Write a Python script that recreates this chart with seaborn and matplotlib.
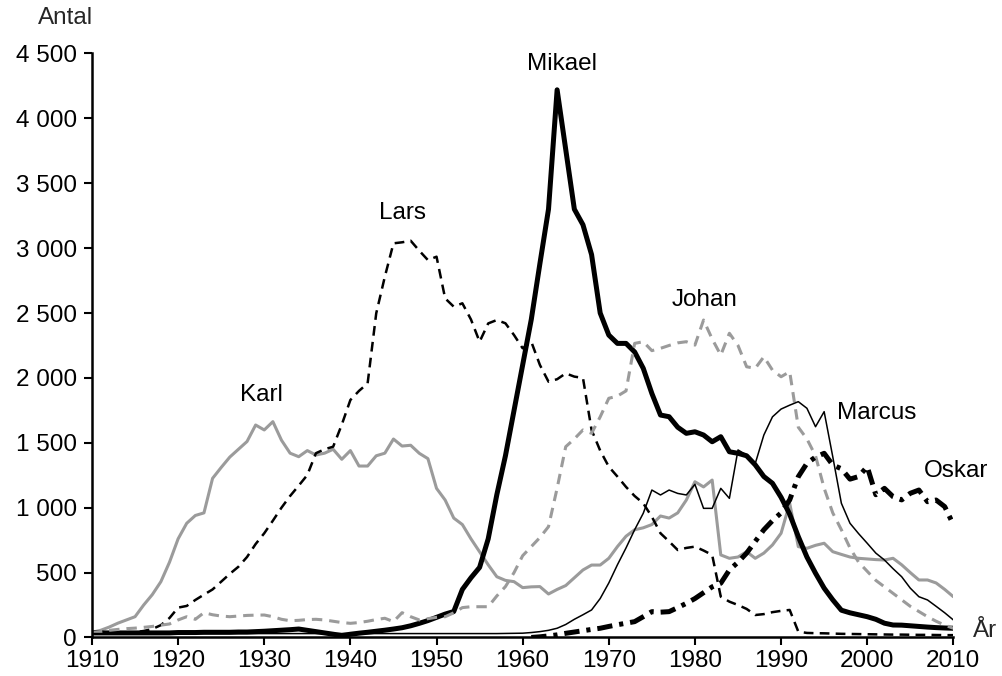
import numpy as np
import pandas as pd
import matplotlib
matplotlib.use("Agg")
import matplotlib.pyplot as plt
from matplotlib.ticker import FuncFormatter, FixedLocator
import seaborn as sns

nan = np.nan
years = list(range(1910, 2011))

karl = [40, 55, 80, 110, 135, 160, 250, 330, 430, 580,
        760, 880, 940, 960, 1226, 1310, 1390, 1450, 1510, 1637,
        1599, 1663, 1520, 1420, 1393, 1440, 1406, 1420, 1450, 1373,
        1440, 1321, 1321, 1400, 1420, 1529, 1475, 1481, 1419, 1378,
        1149, 1059, 920, 870, 760, 660, 560, 468, 440, 430,
        384, 390, 392, 335, 370, 400, 460, 520, 558, 558,
        610, 700, 780, 830, 845, 870, 936, 920, 960, 1059,
        1200, 1160, 1213, 636, 610, 620, 661, 610, 650, 713,
        803, 1034, 700, 687, 710, 726, 661, 640, 620, 610,
        605, 600, 597, 610, 560, 500, 443, 443, 420, 370, 314]

lars = [30, 30, 30, 30, 35, 40, 50, 65, 95, 150,
        230, 243, 289, 330, 370, 430, 490, 545, 620, 720,
        803, 900, 1000, 1090, 1170, 1252, 1420, 1450, 1470, 1640,
        1830, 1900, 1958, 2498, 2780, 3037, 3045, 3057, 2980, 2908,
        2934, 2613, 2549, 2575, 2450, 2279, 2420, 2446, 2421, 2330,
        2228, 2279, 2100, 1971, 1990, 2035, 2010, 2000, 1599, 1440,
        1316, 1240, 1160, 1090, 1034, 930, 803, 740, 674, 690,
        700, 670, 636, 314, 276, 250, 220, 173, 180, 195,
        205, 212, 45, 35, 33, 32, 30, 28, 27, 26,
        25, 24, 23, 22, 22, 21, 20, 20, 19, 18, 18]

mikael = [35, 35, 35, 35, 35, 35, 35, 35, 35, 35,
          38, 38, 38, 40, 40, 40, 40, 42, 42, 45,
          48, 52, 56, 60, 65, 55, 45, 35, 25, 15,
          25, 33, 40, 48, 56, 65, 75, 90, 109, 130,
          155, 180, 200, 370, 460, 540, 760, 1100, 1400, 1750,
          2100, 2450, 2880, 3300, 4220, 3760, 3300, 3180, 2950, 2500,
          2330, 2266, 2266, 2200, 2074, 1880, 1714, 1701, 1620, 1573,
          1585, 1560, 1508, 1547, 1431, 1419, 1400, 1330, 1240, 1188,
          1080, 950, 777, 620, 495, 380, 290, 210, 190, 175,
          160, 140, 110, 96, 95, 90, 85, 80, 76, 73, 71]

johan = [35, 45, 55, 62, 68, 72, 78, 85, 95, 104,
         135, 160, 140, 191, 175, 165, 160, 165, 170, 172,
         173, 160, 140, 129, 132, 138, 140, 135, 125, 115,
         109, 115, 125, 138, 148, 122, 191, 160, 135, 145,
         155, 160, 190, 230, 237, 237, 237, 320, 392, 500,
         630, 700, 770, 854, 1150, 1470, 1530, 1599, 1573, 1700,
         1843, 1860, 1900, 2266, 2279, 2210, 2228, 2250, 2270, 2279,
         2253, 2446, 2300, 2176, 2344, 2250, 2086, 2074, 2163, 2060,
         2009, 2048, 1620, 1530, 1400, 1150, 960, 830, 690, 580,
         510, 440, 390, 340, 290, 240, 200, 160, 125, 95, 71]

marcus = [30, 30, 30, 30, 30, 30, 30, 30, 30, 30,
          30, 30, 30, 30, 30, 30, 30, 30, 30, 30,
          30, 30, 30, 30, 30, 30, 30, 30, 30, 30,
          30, 30, 30, 30, 30, 30, 30, 30, 30, 30,
          30, 30, 30, 30, 30, 30, 30, 30, 31, 32,
          33, 38, 45, 55, 71, 100, 140, 175, 212, 300,
          420, 560, 690, 830, 957, 1136, 1098, 1136, 1110, 1098,
          1180, 995, 995, 1149, 1072, 1445, 1406, 1340, 1560, 1700,
          1760, 1790, 1817, 1766, 1624, 1740, 1393, 1034, 880, 800,
          726, 650, 597, 530, 468, 380, 314, 289, 240, 190, 135]

oskar = [nan] * 51 + [
    0, 5, 12, 20, 32, 42, 52, 62, 71,
    85, 98, 110, 122, 160, 199, 195, 199, 230, 263,
    300, 345, 390, 418, 520, 580, 650, 740, 830, 900,
    960, 1060, 1239, 1342, 1390, 1419, 1329, 1300, 1220, 1240,
    1316, 1100, 1149, 1085, 1060, 1111, 1136, 1046, 1059, 1008, 870]

names = ["Karl", "Lars", "Mikael", "Johan", "Marcus", "Oskar"]
x_ticks = list(range(1910, 2011, 10))
y_ticks = list(range(0, 4501, 500))

df = pd.DataFrame({"År": years, "Karl": karl, "Lars": lars, "Mikael": mikael,
                   "Johan": johan, "Marcus": marcus, "Oskar": oskar})

sns.set_theme(style="ticks")
plt.rcParams["font.family"] = ["Liberation Sans", "DejaVu Sans"]
plt.rcParams["lines.scale_dashes"] = False

fig = plt.figure(figsize=(10.03, 6.76), dpi=100)
ax = fig.add_axes([0.0917, 0.0570, 0.8588, 0.8639])

grey = "#9b9b9b"
styles = {
    "Karl":   dict(color=grey, lw=2.2, ls="-"),
    "Lars":   dict(color="black", lw=1.8, ls=(0, (7.0, 4.5))),
    "Mikael": dict(color="black", lw=3.6, ls="-"),
    "Johan":  dict(color=grey, lw=2.2, ls=(0, (7.5, 5.0))),
    "Marcus": dict(color="black", lw=1.1, ls="-"),
    "Oskar":  dict(color="black", lw=3.6, ls=(0, (11.0, 5.0, 3.0, 5.0))),
}

for name in names:
    st = styles[name]
    sns.lineplot(data=df, x="År", y=name, ax=ax, color=st["color"],
                 linewidth=st["lw"], linestyle=st["ls"], estimator=None,
                 errorbar=None, sort=False)

ax.set_xlim(1910, 2010)
ax.set_ylim(0, 4500)
ax.xaxis.set_major_locator(FixedLocator(x_ticks))
ax.yaxis.set_major_locator(FixedLocator(y_ticks))
ax.yaxis.set_major_formatter(FuncFormatter(lambda v, p: f"{int(v):,}".replace(",", " ")))
ax.set_xlabel("")
ax.set_ylabel("")
for s in ["top", "right"]:
    ax.spines[s].set_visible(False)
for s in ["left", "bottom"]:
    ax.spines[s].set_linewidth(1.8)
    ax.spines[s].set_color("black")
ax.tick_params(axis="both", direction="out", length=6, width=1.5, colors="black",
               labelsize=17.5)
ax.tick_params(axis="y", pad=5)
ax.tick_params(axis="x", pad=3)

label_pos = {
    "Karl": (1929.7, 1868),
    "Lars": (1946.1, 3270),
    "Mikael": (1964.6, 4420),
    "Johan": (1981.1, 2600),
    "Marcus": (2001.1, 1730),
    "Oskar": (2010.3, 1283),
}
for name in names:
    x, y = label_pos[name]
    ax.text(x, y, name, ha="center", va="center", fontsize=17.5, color="black",
            clip_on=False)

fig.text(66 / 1003, 1 - 18 / 676, "Antal", ha="center", va="center", fontsize=17.5)
fig.text(985 / 1003, 1 - 631 / 676, "År", ha="center", va="center", fontsize=17.5)

fig.savefig("out.png", dpi=100)
